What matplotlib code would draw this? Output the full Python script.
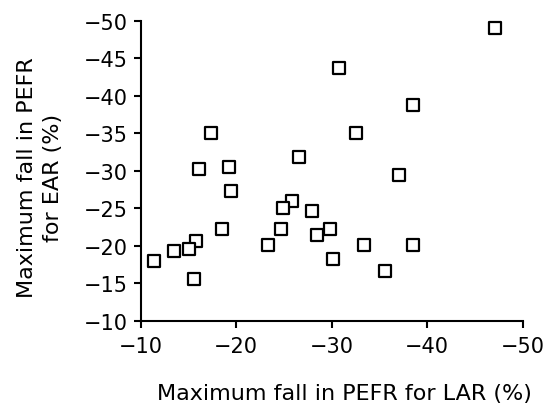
import matplotlib
matplotlib.use("Agg")
import matplotlib.pyplot as plt
from matplotlib.markers import MarkerStyle

# maximum fall in PEFR (%) for late (LAR) and early (EAR) asthmatic response
lar_fall = [-47.1, -30.8, -38.5, -17.4, -32.6, -26.6, -16.1, -19.3, -37.1,
            -19.5, -25.8, -24.9, -27.9, -18.5, -24.7, -29.8, -28.5, -23.3,
            -33.4, -38.5, -15.8, -15.1, -13.5, -11.4, -30.1, -35.6, -15.6]
ear_fall = [-49.0, -43.7, -38.7, -35.0, -35.0, -31.8, -30.2, -30.5, -29.4,
            -27.3, -26.0, -25.1, -24.6, -22.2, -22.2, -22.2, -21.4, -20.1,
            -20.1, -20.1, -20.7, -19.6, -19.3, -18.0, -18.3, -16.7, -15.6]

x_ticks = [-10, -20, -30, -40, -50]
y_ticks = [-10, -15, -20, -25, -30, -35, -40, -45, -50]

plt.rcParams['font.family'] = ['DejaVu Sans']

fig = plt.figure(figsize=(5.45, 4.06), dpi=100)
ax = fig.add_axes([0.258, 0.207, 0.701, 0.740])

ax.plot(lar_fall, ear_fall, linestyle='none',
        marker=MarkerStyle('s', joinstyle='round'), markersize=9,
        markerfacecolor='white', markeredgecolor='black', markeredgewidth=1.6,
        clip_on=False)

ax.set_xlim(-10, -50)
ax.set_ylim(-10, -50)
ax.set_xticks(x_ticks)
ax.set_yticks(y_ticks)
ax.set_xticklabels([f"\u2212{abs(v)}" for v in x_ticks])
ax.set_yticklabels([f"\u2212{abs(v)}" for v in y_ticks])

for side in ['top', 'right']:
    ax.spines[side].set_visible(False)
for side in ['left', 'bottom']:
    ax.spines[side].set_linewidth(1.5)

ax.tick_params(axis='both', direction='out', length=5, width=1.5,
               labelsize=15, colors='black')
ax.tick_params(axis='x', pad=6)
ax.tick_params(axis='y', pad=4)

ax.set_xlabel('Maximum fall in PEFR for LAR (%)', fontsize=16)
ax.set_ylabel('Maximum fall in PEFR\nfor EAR (%)', fontsize=16,
              linespacing=1.4)
ax.xaxis.set_label_coords(0.534, -0.205)
ax.yaxis.set_label_coords(-0.203, 0.48)

fig.savefig('out.png', dpi=100)
